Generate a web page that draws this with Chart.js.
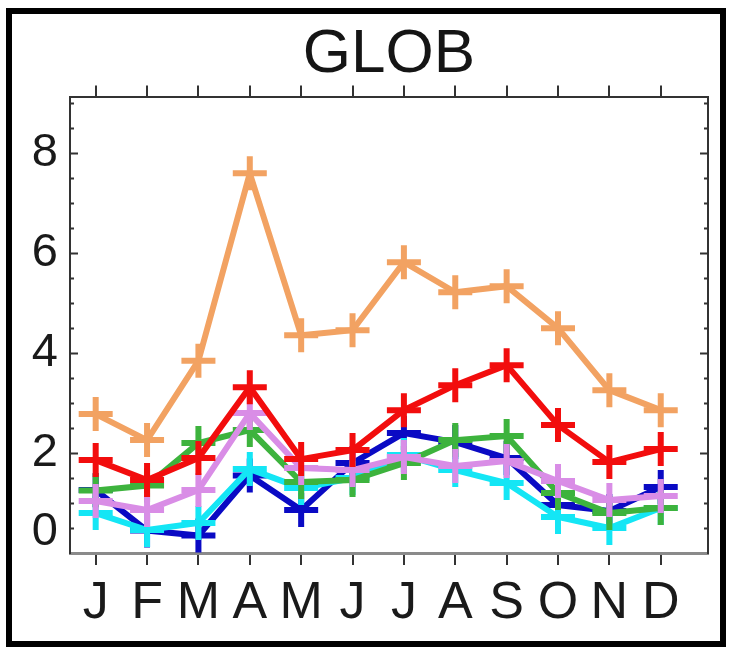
<!DOCTYPE html>
<html>
<head>
<meta charset="utf-8">
<script src="https://cdn.jsdelivr.net/npm/chart.js@4/dist/chart.umd.min.js"></script>
<style>
  html, body { margin: 0; padding: 0; background: #fff; }
  #wrap { position: relative; width: 731px; height: 649px; overflow: hidden; }
  #frame {
    position: absolute; left: 6px; top: 8px; width: 720px; height: 639px;
    box-sizing: border-box; border: 6px solid #000; pointer-events: none;
  }
  canvas { position: absolute; left: 0; top: 0; }
</style>
</head>
<body>
<div id="wrap">
  <canvas id="globChart" width="731" height="649"></canvas>
  <div id="frame"></div>
</div>
<script>
const months = ["J", "F", "M", "A", "M", "J", "J", "A", "S", "O", "N", "D"];
const yTicks = [0, 2, 4, 6, 8];

// one array per line
const redValues     = [1.86, 1.46, 1.90, 3.32, 1.88, 2.06, 2.86, 3.36, 3.76, 2.56, 1.82, 2.08];
const orangeValues  = [2.78, 2.26, 3.85, 7.60, 4.36, 4.46, 5.82, 5.22, 5.34, 4.50, 3.26, 2.86];
const magentaValues = [1.04, 0.86, 1.26, 2.80, 1.70, 1.66, 1.92, 1.74, 1.84, 1.44, 1.06, 1.14];
const greenValues   = [1.25, 1.35, 2.20, 2.46, 1.42, 1.46, 1.80, 2.26, 2.34, 1.20, 0.80, 0.90];
const cyanValues    = [0.80, 0.46, 0.60, 1.68, 1.30, 1.50, 1.96, 1.66, 1.40, 0.72, 0.50, 0.90];
const blueValues    = [1.26, 0.45, 0.35, 1.55, 0.86, 1.80, 2.40, 2.22, 1.90, 0.96, 0.84, 1.32];

// first in the list is drawn on top
const series = [
    { values: redValues,     color: "#f20d0d" },
    { values: orangeValues,  color: "#f2a262" },
    { values: magentaValues, color: "#d98de6" },
    { values: greenValues,   color: "#3db33d" },
    { values: cyanValues,    color: "#14e6f5" },
    { values: blueValues,    color: "#0a0ac4" }
];

const datasets = series.map(s => ({
    data: s.values.map((v, i) => ({ x: i, y: v })),
    borderColor: s.color,
    backgroundColor: s.color,
    borderWidth: 6,
    pointStyle: "cross",
    pointRadius: 17,
    pointBorderWidth: 6,
    pointBorderColor: s.color,
    tension: 0,
    clip: false
}));

// small inward ticks on the left and right axes
const innerTicks = {
    id: "innerTicks",
    afterDraw(chart) {
        const ctx = chart.ctx;
        const y = chart.scales.y;
        const area = chart.chartArea;
        ctx.save();
        ctx.strokeStyle = "#333";
        ctx.lineWidth = 2;
        for (let v = 0.5; v <= 9; v += 0.5) {
            const py = Math.round(y.getPixelForValue(v)) + 0.5;
            const len = (v % 2 === 0) ? 8 : 4;
            ctx.beginPath();
            ctx.moveTo(area.left, py);
            ctx.lineTo(area.left + len, py);
            ctx.moveTo(area.right, py);
            ctx.lineTo(area.right - len, py);
            ctx.stroke();
        }
        ctx.restore();
    }
};

const monthTicks = scale => { scale.ticks = months.map((m, i) => ({ value: i })); };

const ctx = document.getElementById("globChart").getContext("2d");
new Chart(ctx, {
    type: "line",
    data: { datasets: datasets },
    plugins: [innerTicks],
    options: {
        responsive: false,
        animation: false,
        layout: { padding: { left: 0, right: 13, top: 0, bottom: 0 } },
        plugins: {
            legend: { display: false },
            tooltip: { enabled: false },
            title: {
                display: true,
                text: "GLOB",
                fullSize: false,  // centre over the plot box, not the canvas
                color: "#151515",
                font: { family: "Liberation Sans", size: 62, weight: "normal", lineHeight: 1.2 },
                padding: { top: 18, bottom: 0 }
            }
        },
        scales: {
            x: {
                type: "linear",
                position: "bottom",
                min: -0.5,
                max: 11.92,
                afterBuildTicks: monthTicks,
                afterFit: s => { s.height = 96; },
                grid: { drawOnChartArea: false, drawTicks: true, tickLength: 12, tickColor: "#333", lineWidth: 2 },
                border: { display: true, color: "#8a8a8a", width: 3 },
                ticks: {
                    callback: (v, i) => months[i],
                    color: "#1a1a1a",
                    padding: 7,
                    maxRotation: 0,
                    autoSkip: false,
                    font: { family: "Liberation Sans", size: 52 }
                }
            },
            xTop: {
                type: "linear",
                position: "top",
                min: -0.5,
                max: 11.92,
                afterBuildTicks: monthTicks,
                afterFit: s => { s.height = 5; },
                grid: { drawOnChartArea: false, drawTicks: true, tickLength: 12, tickColor: "#333", lineWidth: 2 },
                border: { display: true, color: "#333", width: 2 },
                ticks: { display: false }
            },
            y: {
                min: 0,
                max: 9.12,
                afterBuildTicks: s => { s.ticks = yTicks.map(v => ({ value: v })); },
                afterFit: s => { s.width = 70; },
                grid: { drawOnChartArea: false, drawTicks: false },
                border: { display: true, color: "#333", width: 2 },
                ticks: {
                    // the zero label sits a little higher, as in the original
                    callback: v => v === 0 ? ["0", ""] : String(v),
                    color: "#1a1a1a",
                    padding: 12,
                    font: { family: "Liberation Sans", size: 47, lineHeight: 0.9 }
                }
            },
            yRight: {
                position: "right",
                min: 0,
                max: 9.12,
                afterFit: s => { s.width = 0; },
                grid: { drawOnChartArea: false, drawTicks: false },
                border: { display: true, color: "#333", width: 2 },
                ticks: { display: false }
            }
        }
    }
});
</script>
</body>
</html>
